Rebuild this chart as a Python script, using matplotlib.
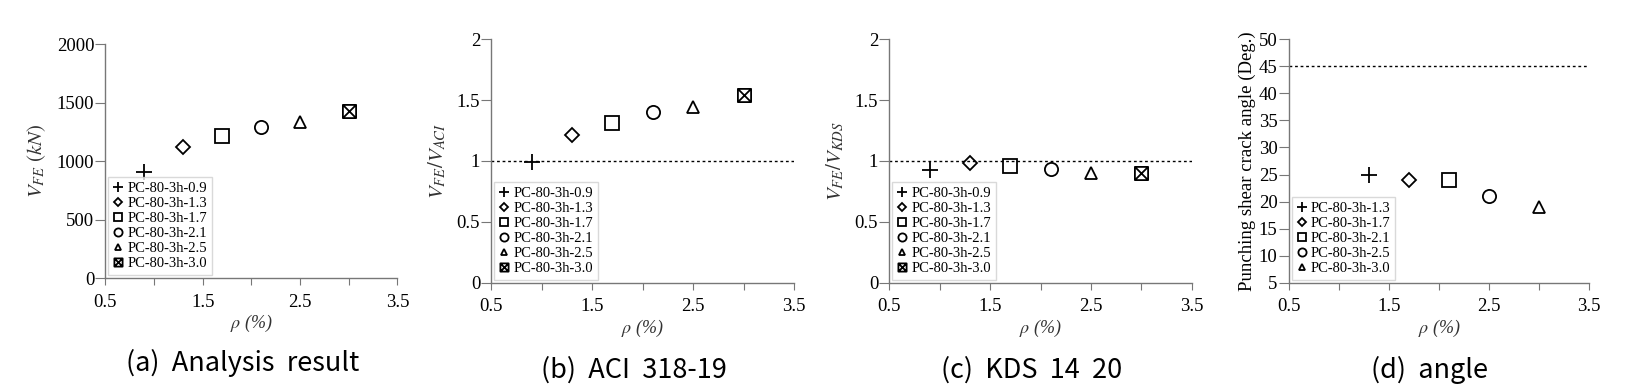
import numpy as np
import matplotlib
matplotlib.use("Agg")
import matplotlib.pyplot as plt
from matplotlib.path import Path

plt.rcParams['font.family'] = ['Liberation Serif', 'DejaVu Serif']
plt.rcParams['mathtext.fontset'] = 'stix'

# data
rho = [0.9, 1.3, 1.7, 2.1, 2.5, 3.0]
names = ["PC-80-3h-0.9", "PC-80-3h-1.3", "PC-80-3h-1.7",
         "PC-80-3h-2.1", "PC-80-3h-2.5", "PC-80-3h-3.0"]
v_fe = [910, 1123, 1215, 1292, 1335, 1425]
ratio_aci = [0.99, 1.215, 1.315, 1.40, 1.445, 1.54]
ratio_kds = [0.93, 0.985, 0.955, 0.935, 0.905, 0.905]

rho_d = [1.3, 1.7, 2.1, 2.5, 3.0]
names_d = ["PC-80-3h-1.3", "PC-80-3h-1.7", "PC-80-3h-2.1",
           "PC-80-3h-2.5", "PC-80-3h-3.0"]
angle = [25, 24, 24, 21, 19]

captions = ["(a)  Analysis  result", "(b)  ACI  318-19",
            "(c)  KDS  14  20", "(d)  angle"]

# square with an X inside
boxx = Path([(-1, -1), (1, -1), (1, 1), (-1, 1), (-1, -1),
             (-1, -1), (1, 1), (-1, 1), (1, -1)],
            [Path.MOVETO, Path.LINETO, Path.LINETO, Path.LINETO, Path.CLOSEPOLY,
             Path.MOVETO, Path.LINETO, Path.MOVETO, Path.LINETO])
markers = ['+', 'D', 's', 'o', '^', boxx]
msizes = [11, 7, 9.5, 9.5, 8, 9.5]

fig = plt.figure(figsize=(16.49, 3.84), dpi=100)
boxes = [[0.0639, 0.2753, 0.1771, 0.6101],
         [0.2979, 0.2638, 0.1836, 0.6339],
         [0.5393, 0.2638, 0.1834, 0.6339],
         [0.7815, 0.2638, 0.1823, 0.6339]]
axes = [fig.add_axes(b) for b in boxes]


def draw(ax, xs, ys, labels, mk, ms):
    for x, y, lab, m, s in zip(xs, ys, labels, mk, ms):
        ax.plot(x, y, linestyle='none', marker=m, markersize=s,
                markerfacecolor='none', markeredgecolor='k',
                markeredgewidth=1.3, label=lab)
    leg = ax.legend(loc='lower left', fontsize=10.5, frameon=True, fancybox=False,
                    markerscale=0.62, handlelength=0.7, handletextpad=0.25,
                    labelspacing=0.12, borderpad=0.35, borderaxespad=0.2)
    leg.get_frame().set_edgecolor('#d0d0d0')
    leg.get_frame().set_linewidth(1.0)


draw(axes[0], rho, v_fe, names, markers, msizes)
draw(axes[1], rho, ratio_aci, names, markers, msizes)
draw(axes[2], rho, ratio_kds, names, markers, msizes)
draw(axes[3], rho_d, angle, names_d, markers[:5], msizes[:5])

axes[1].plot([0.5, 3.5], [1, 1], color='k', linestyle=(0, (2, 2)), lw=1, zorder=1)
axes[2].plot([0.5, 3.5], [1, 1], color='k', linestyle=(0, (2, 2)), lw=1, zorder=1)
axes[3].plot([0.5, 3.5], [45, 45], color='k', linestyle=(0, (2, 2)), lw=1, zorder=1)

xt = [0.5, 1.0, 1.5, 2.0, 2.5, 3.0, 3.5]
xtl = ["0.5", "", "1.5", "", "2.5", "", "3.5"]
ylims = [(0, 2000), (0, 2), (0, 2), (5, 50)]
yticks = [[0, 500, 1000, 1500, 2000],
          [0, 0.5, 1, 1.5, 2],
          [0, 0.5, 1, 1.5, 2],
          [5, 10, 15, 20, 25, 30, 35, 40, 45, 50]]
ytl = [["0", "500", "1000", "1500", "2000"],
       ["0", "0.5", "1", "1.5", "2"],
       ["0", "0.5", "1", "1.5", "2"],
       [str(v) for v in yticks[3]]]
ylabels = [r'$V_{FE}\ (kN)$', r'$V_{FE}/V_{ACI}$', r'$V_{FE}/V_{KDS}$',
           'Punching shear crack angle (Deg.)']

for i, ax in enumerate(axes):
    ax.set_xlim(0.5, 3.5)
    ax.set_ylim(*ylims[i])
    ax.set_xticks(xt, xtl)
    ax.set_yticks(yticks[i], ytl[i])
    for s in ['top', 'right']:
        ax.spines[s].set_visible(False)
    for s in ['left', 'bottom']:
        ax.spines[s].set_color('#777777')
        ax.spines[s].set_linewidth(1.0)
    ax.tick_params(axis='x', direction='out', length=5, color='#777777',
                   labelsize=13.5, pad=6)
    ax.tick_params(axis='y', direction='out', length=7, color='#777777',
                   labelsize=13.5, pad=1)
    ax.set_xlabel(r'$\rho$ (%)', fontsize=13, style='italic', color='#333333',
                  labelpad=2)
    if i < 3:
        ax.set_ylabel(ylabels[i], fontsize=15, color='#333333', labelpad=6)
    else:
        ax.set_ylabel(ylabels[i], fontsize=13.5, labelpad=2)
    ax.text(0.47, -0.36, captions[i], transform=ax.transAxes, ha='center',
            va='center', fontsize=19.5, fontweight='medium',
            family=['Noto Sans CJK KR', 'DejaVu Sans'])

fig.savefig('out.png', dpi=100)
